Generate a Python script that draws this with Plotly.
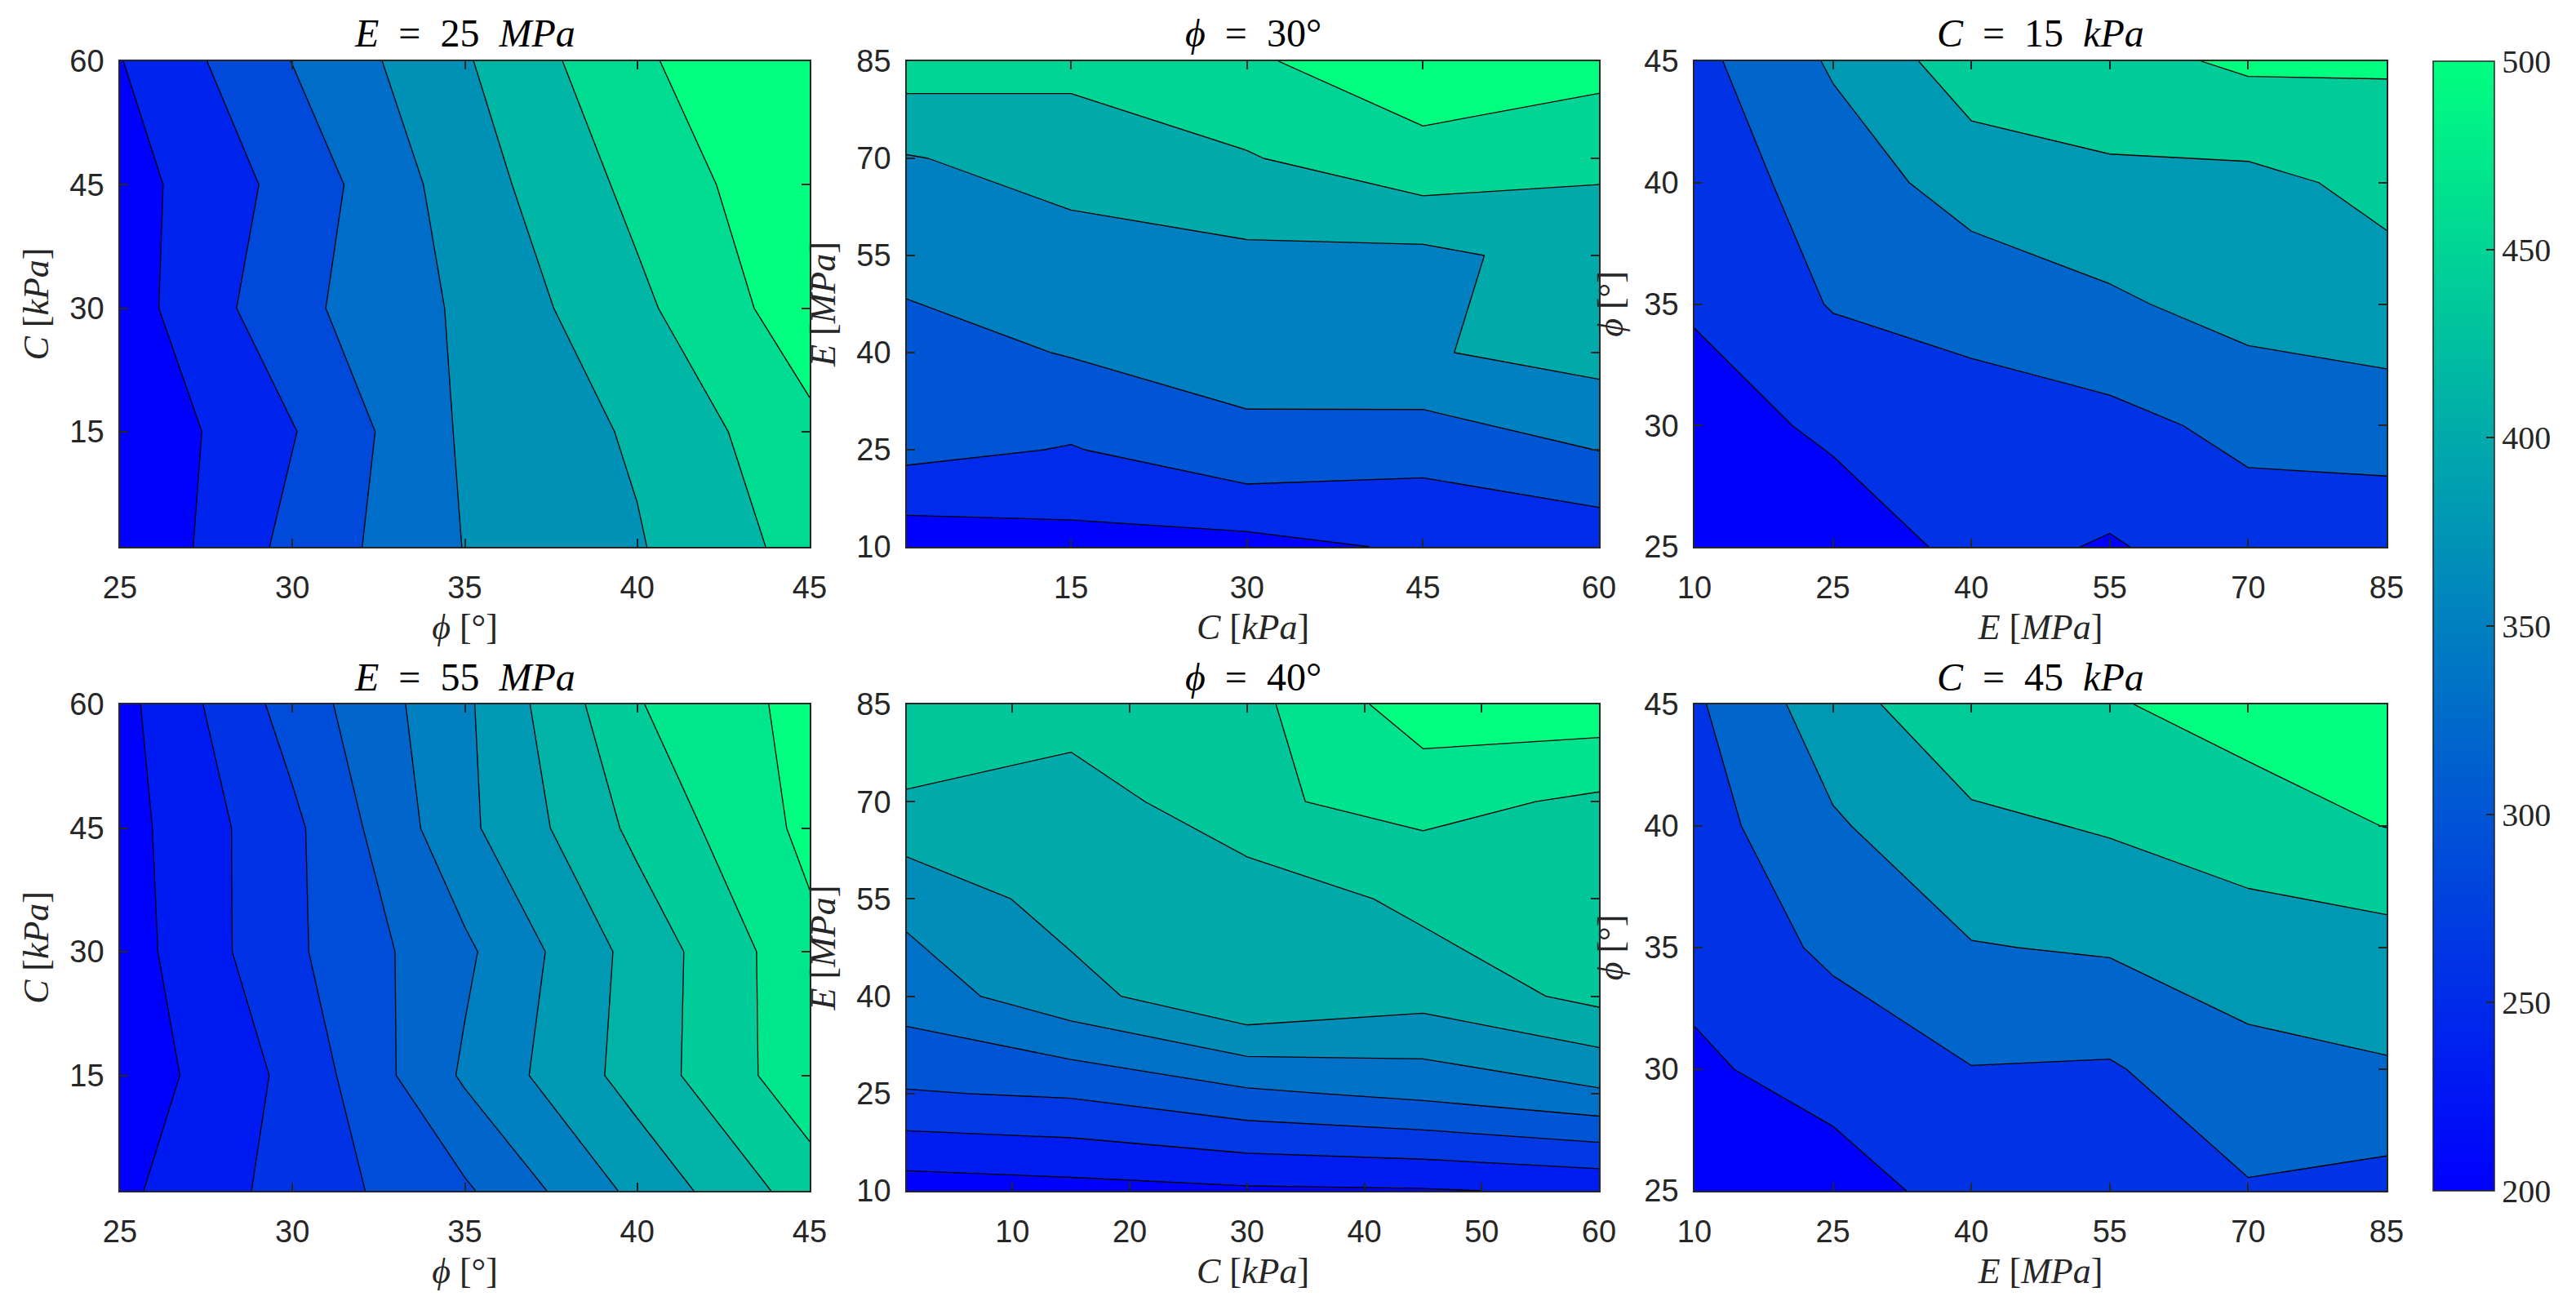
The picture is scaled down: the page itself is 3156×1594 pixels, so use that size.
import plotly.graph_objects as go

W, H = 3156, 1594
OFF = 8                      # default page (body) margin of the html page
FW, FH = W - OFF, H - OFF    # figure size so it fits in the window

# ---- grid coordinates ----
phi_deg = [25, 30, 35, 40, 45]
C_kpa = [1, 15, 30, 45, 60]
E_mpa = [10, 25, 40, 55, 70, 85]

# ---- panel values (rows = y coordinate, cols = x coordinate) ----
# E = 25 MPa : rows C, cols phi
z_E25 = [
    [180.3, 277.1, 351.3, 389.4, 451.6],
    [185.0, 261.7, 356.4, 398.4, 469.1],
    [200.0, 295.1, 357.3, 426.3, 503.4],
    [202.1, 279.3, 372.3, 447.3, 515.4],
    [219.7, 308.0, 388.6, 471.7, 523.6],
]
# E = 55 MPa : rows C, cols phi
z_E55 = [
    [208.4, 256.4, 300.5, 373.1, 440.0],
    [194.9, 252.8, 339.5, 407.9, 475.1],
    [199.7, 269.3, 329.3, 405.8, 476.9],
    [202.7, 268.1, 358.1, 432.5, 493.1],
    [205.1, 287.9, 359.6, 453.2, 494.9],
]
# phi = 30 deg : rows E, cols C
z_phi30 = [
    [193.5, 207.0, 209.0, 232.0, 240.0],
    [290.5, 272.0, 311.0, 292.5, 326.0],
    [303.5, 328.0, 344.5, 371.0, 393.5],
    [342.5, 357.5, 366.0, 363.5, 396.5],
    [372.0, 395.0, 421.0, 463.5, 435.5],
    [451.5, 440.0, 470.0, 498.0, 494.5],
]
# phi = 40 deg : rows E, cols C
z_phi40 = [
    [200.0, 205.3, 211.7, 214.0, 222.0],
    [281.0, 287.3, 310.7, 324.7, 345.3],
    [332.7, 371.3, 413.7, 395.7, 425.7],
    [359.0, 397.3, 395.3, 425.0, 433.3],
    [415.3, 396.3, 444.7, 460.7, 444.0],
    [426.0, 436.3, 439.7, 502.3, 503.7],
]
# C = 15 kPa : rows phi, cols E
z_C15 = [
    [170.0, 185.6, 249.8, 224.6, 261.8, 252.2],
    [194.0, 245.0, 264.8, 273.2, 305.0, 317.0],
    [239.0, 293.6, 310.4, 340.4, 373.4, 387.8],
    [254.6, 317.6, 376.4, 398.0, 395.0, 424.4],
    [272.6, 357.2, 442.4, 449.0, 480.8, 477.8],
]
# C = 45 kPa : rows phi, cols E
z_C45 = [
    [182.0, 209.6, 248.0, 266.0, 284.6, 267.8],
    [222.8, 248.0, 288.2, 284.0, 333.8, 345.2],
    [243.2, 302.6, 347.0, 356.0, 377.6, 387.2],
    [263.0, 342.8, 396.8, 416.0, 444.2, 471.2],
    [281.0, 384.8, 457.4, 465.2, 492.8, 500.0],
]

# number of contour lines per panel
n_lines = [7, 6, 5, 10, 9, 5]

cbar_min, cbar_max = 200, 500
cbar_ticks = [200, 250, 300, 350, 400, 450, 500]

SP = "\u2002"  # wider math-like spacing
titles = [
    f"<i>E</i>{SP}={SP}25{SP}<i>MPa</i>",
    f"<i>ϕ</i>{SP}={SP}30°",
    f"<i>C</i>{SP}={SP}15{SP}<i>kPa</i>",
    f"<i>E</i>{SP}={SP}55{SP}<i>MPa</i>",
    f"<i>ϕ</i>{SP}={SP}40°",
    f"<i>C</i>{SP}={SP}45{SP}<i>kPa</i>",
]
lab_phi = "<i>ϕ</i> [°]"
lab_C = "<i>C</i> [<i>kPa</i>]"
lab_E = "<i>E</i> [<i>MPa</i>]"

winter = [[0, "rgb(0,0,255)"], [1, "rgb(0,255,128)"]]
AX = "#262626"

# ---- layout geometry (window pixels) ----
cols_px = [(147, 992), (1111, 1959), (2076, 2924)]
rows_px = [(75, 670), (863, 1459)]

def xdom(c):
    return [(cols_px[c][0] - OFF) / FW, (cols_px[c][1] - OFF) / FW]

def ydom(r):
    return [1 - (rows_px[r][1] - OFF) / FH, 1 - (rows_px[r][0] - OFF) / FH]

panels = [
    # (x, y, z, xrange, yrange, xticks, yticks, xlabel, ylabel)
    (phi_deg, C_kpa, z_E25, [25, 45], [1, 60], [25, 30, 35, 40, 45], [15, 30, 45, 60], lab_phi, lab_C),
    (C_kpa, E_mpa, z_phi30, [1, 60], [10, 85], [15, 30, 45, 60], [10, 25, 40, 55, 70, 85], lab_C, lab_E),
    (E_mpa, phi_deg, z_C15, [10, 85], [25, 45], [10, 25, 40, 55, 70, 85], [25, 30, 35, 40, 45], lab_E, lab_phi),
    (phi_deg, C_kpa, z_E55, [25, 45], [1, 60], [25, 30, 35, 40, 45], [15, 30, 45, 60], lab_phi, lab_C),
    (C_kpa, E_mpa, z_phi40, [1, 60], [10, 85], [10, 20, 30, 40, 50, 60], [10, 25, 40, 55, 70, 85], lab_C, lab_E),
    (E_mpa, phi_deg, z_C45, [10, 85], [25, 45], [10, 25, 40, 55, 70, 85], [25, 30, 35, 40, 45], lab_E, lab_phi),
]

fig = go.Figure()
layout = dict(
    width=FW, height=FH,
    margin=dict(l=0, r=0, t=0, b=0, autoexpand=False),
    paper_bgcolor="white", plot_bgcolor="white",
    showlegend=False,
    annotations=[],
)

tick_font = dict(family="Liberation Sans", size=38, color=AX)
title_font = dict(family="Liberation Serif", size=44, color=AX)

for i, (xv, yv, zv, xr, yr, xt, yt, xl, yl) in enumerate(panels):
    r, c = divmod(i, 3)
    k = i + 1
    xa = "x" if k == 1 else f"x{k}"
    ya = "y" if k == 1 else f"y{k}"
    n = n_lines[i]
    step = (cbar_max - cbar_min) / n
    fig.add_trace(go.Contour(
        x=xv, y=yv, z=zv,
        xaxis=xa, yaxis=ya,
        colorscale=winter,
        autocontour=False,
        contours=dict(coloring="fill", showlines=True,
                      start=cbar_min + step / 2,
                      end=cbar_max - step / 2,
                      size=step),
        line=dict(color="black", width=1.3, smoothing=0),
        showscale=False,
        hoverinfo="skip",
    ))
    common = dict(
        ticks="inside", ticklen=10, tickwidth=1.5, tickcolor=AX,
        showline=True, linewidth=1.5, linecolor=AX, mirror="ticks",
        showgrid=False, zeroline=False, tickfont=tick_font,
    )
    layout["xaxis" if k == 1 else f"xaxis{k}"] = dict(
        domain=xdom(c), anchor=ya, range=xr, tickvals=xt,
        ticklabelstandoff=16,
        title=dict(text=xl, font=title_font, standoff=12),
        **common,
    )
    layout["yaxis" if k == 1 else f"yaxis{k}"] = dict(
        domain=ydom(r), anchor=xa, range=yr, tickvals=yt,
        ticklabelstandoff=10,
        title=dict(text=yl, font=title_font, standoff=12),
        **common,
    )
    layout["annotations"].append(dict(
        text=titles[i], xref="paper", yref="paper",
        x=(xdom(c)[0] + xdom(c)[1]) / 2, y=ydom(r)[1],
        xanchor="center", yanchor="middle", yshift=34,
        showarrow=False,
        font=dict(family="Liberation Serif", size=48, color="black"),
    ))

# shared continuous colorbar
cb_top, cb_bot = 75, 1459
fig.add_trace(go.Scatter(
    x=[25], y=[1], xaxis="x", yaxis="y", mode="markers",
    marker=dict(size=1, opacity=0, color=[cbar_min], cmin=cbar_min, cmax=cbar_max,
                colorscale=winter, showscale=True,
                colorbar=dict(
                    x=(2981 - OFF) / FW, xanchor="left",
                    y=1 - ((cb_top + cb_bot) / 2 - OFF) / FH, yanchor="middle",
                    len=cb_bot - cb_top, lenmode="pixels",
                    thickness=75, thicknessmode="pixels",
                    outlinewidth=1.5, outlinecolor=AX,
                    ticks="inside", ticklen=10, tickwidth=1.5, tickcolor=AX,
                    tickvals=cbar_ticks,
                    tickfont=dict(family="Liberation Serif", size=40, color=AX),
                    xpad=0, ypad=0,
                )),
    hoverinfo="skip", showlegend=False,
))

fig.update_layout(**layout)
fig.write_html("out.html")
